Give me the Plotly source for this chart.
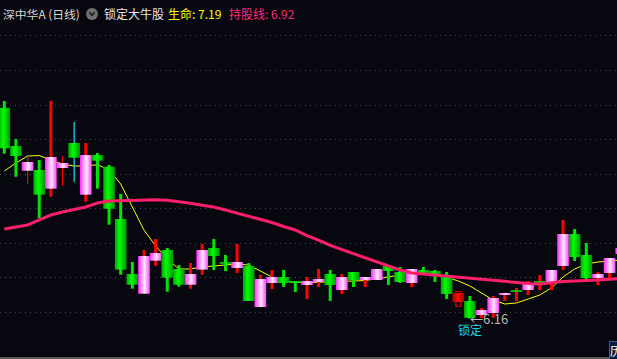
import plotly.graph_objects as go

# ---------------- data ----------------
opens  = [9.211, 8.657, 8.299, 8.309, 8.039, 8.338, 8.700, 7.952, 8.526, 8.357,
          7.600, 6.804, 6.519, 6.997, 7.152, 6.877, 6.649, 6.867, 7.181, 6.963,
          6.891, 6.920, 6.327, 6.674, 6.761, 6.689, 6.645, 6.689, 6.804, 6.573,
          6.833, 6.717, 6.717, 6.920, 6.833, 6.674, 6.862, 6.848, 6.775, 6.399,
          6.414, 6.211, 6.240, 6.500, 6.558, 6.573, 6.689, 6.674, 6.920, 7.383,
          7.079, 6.746, 6.819, 7.094]
highs  = [9.308, 8.758, 8.502, 8.454, 9.308, 8.512, 9.004, 8.700, 8.555, 8.382,
          7.962, 6.978, 7.152, 7.311, 7.181, 6.934, 6.963, 7.238, 7.311, 7.079,
          7.238, 6.963, 6.790, 6.862, 6.862, 6.703, 6.761, 6.877, 6.862, 6.804,
          6.833, 6.761, 6.877, 6.934, 6.906, 6.877, 6.906, 6.862, 6.833, 6.558,
          6.486, 6.312, 6.486, 6.529, 6.602, 6.703, 6.790, 6.862, 7.586, 7.456,
          7.253, 6.833, 7.036, 7.200]
lows   = [8.545, 8.212, 8.111, 7.615, 7.923, 8.082, 8.140, 7.851, 8.039, 7.518,
          6.794, 6.592, 6.519, 6.924, 6.548, 6.620, 6.592, 6.794, 6.862, 6.848,
          6.819, 6.414, 6.327, 6.587, 6.616, 6.544, 6.442, 6.616, 6.414, 6.515,
          6.616, 6.616, 6.717, 6.645, 6.674, 6.616, 6.790, 6.689, 6.442, 6.327,
          6.160, 6.170, 6.170, 6.414, 6.414, 6.500, 6.573, 6.573, 6.862, 6.992,
          6.717, 6.645, 6.717, 7.050]
closes = [8.623, 8.512, 8.425, 7.952, 8.498, 8.411, 8.487, 8.526, 8.444, 7.749,
          6.867, 6.649, 7.065, 7.108, 6.751, 6.649, 6.804, 7.152, 7.065, 6.963,
          6.978, 6.414, 6.732, 6.761, 6.674, 6.689, 6.703, 6.732, 6.645, 6.761,
          6.717, 6.761, 6.877, 6.848, 6.689, 6.877, 6.819, 6.790, 6.515, 6.529,
          6.170, 6.283, 6.457, 6.529, 6.558, 6.660, 6.689, 6.862, 7.383, 7.050,
          6.746, 6.804, 7.036, 7.181]
# body style: g = green, p = pink, x = locked red candle
body_kind = list("ggpgppgpggggppggppggpgppggppgpgppggpggg" "xgppppppppgg" "ppp")
# wick style: G green, R red, r thin red, c thin cyan, X locked
wick_kind = list("GGrGRrcRGGGGRRGGRRGGRGRRGGRRGRGRRGGRGGG" "XGRRRRRRRRGG" "RRR")

life_line = [8.295, 8.411, 8.512, 8.519, 8.454, 8.396, 8.367, 8.367, 8.386, 8.309,
             8.107, 7.774, 7.441, 7.210, 7.021, 6.877, 6.877, 6.906, 6.920, 6.934,
             6.949, 6.934, 6.848, 6.761, 6.703, 6.681, 6.681, 6.689, 6.689, 6.696,
             6.703, 6.710, 6.732, 6.761, 6.790, 6.819, 6.819, 6.804, 6.761, 6.703,
             6.631, 6.529, 6.428, 6.370, 6.385, 6.442, 6.500, 6.602, 6.761, 6.877,
             6.949, 6.978, 6.992, 7.007]
hold_line = [7.456, 7.484, 7.513, 7.586, 7.658, 7.701, 7.738, 7.774, 7.832, 7.861,
             7.865, 7.871, 7.875, 7.880, 7.871, 7.853, 7.827, 7.798, 7.774, 7.730,
             7.687, 7.644, 7.600, 7.550, 7.492, 7.441, 7.361, 7.296, 7.217, 7.159,
             7.101, 7.043, 6.985, 6.927, 6.862, 6.819, 6.804, 6.790, 6.768, 6.754,
             6.739, 6.725, 6.710, 6.693, 6.681, 6.667, 6.660, 6.678, 6.696, 6.703,
             6.707, 6.717, 6.727, 6.742]
grid_prices = [6.25, 6.75, 7.25, 7.75, 8.25, 8.75, 9.25, 9.75, 10.25]

title_txt = "深中华A (日线)"
formula_txt = "锁定大牛股"
life_txt = "生命: 7.19"
hold_txt = "持股线: 6.92"
low_txt = "←6.16"
lock_txt = "锁定"
low_index = 40
low_value = 6.16

# ---------------- style ----------------
W, H = 617, 359
BG = "#07070f"
FONT = "Noto Sans CJK SC"
HW = 0.5
n = len(opens)
xs = list(range(n))

def px(x):
    return x / W

def py(y):
    return 1 - y / H

fig = go.Figure()

# yellow life line (behind candles)
fig.add_trace(go.Scatter(x=xs, y=life_line, mode="lines",
                         line=dict(color="#ffff00", width=1),
                         hoverinfo="skip", showlegend=False))

# wicks
wick_style = {
    "G": ("#00e400", 3), "R": ("#ff0000", 3),
    "r": ("#ff0000", 1.2), "c": ("#19e0ff", 1.2),
}
for code, (col, w) in wick_style.items():
    wx, wy = [], []
    for i in range(n):
        if wick_kind[i] == code:
            wx += [i, i, None]
            wy += [lows[i], highs[i], None]
    if wx:
        fig.add_trace(go.Scatter(x=wx, y=wy, mode="lines", line=dict(color=col, width=w),
                                 hoverinfo="skip", showlegend=False))
# locked candle: hollow wick boxes
for i in range(n):
    if wick_kind[i] == "X":
        fig.add_trace(go.Scatter(x=[i, i], y=[lows[i], highs[i]], mode="lines",
                                 line=dict(color="#e00000", width=6),
                                 hoverinfo="skip", showlegend=False))
        fig.add_trace(go.Scatter(x=[i, i], y=[lows[i] + 0.012, highs[i] - 0.012], mode="lines",
                                 line=dict(color=BG, width=3.5),
                                 hoverinfo="skip", showlegend=False))

# bodies
scales = {
    "g": [[0, "#00a400"], [0.4, "#00ff00"], [1, "#009400"]],
    "p": [[0, "#ff2cff"], [0.55, "#ffe8ff"], [1, "#ff48ff"]],
    "x": [[0, "#a00000"], [0.5, "#ff1010"], [1, "#a00000"]],
}
for i in range(n):
    o, c = opens[i], closes[i]
    lo, hi = min(o, c), max(o, c)
    k = body_kind[i]
    if hi - lo < 0.004:
        fig.add_trace(go.Scatter(x=[i - HW, i + HW], y=[o, c], mode="lines",
                                 line=dict(color="#00e400", width=1.5),
                                 hoverinfo="skip", showlegend=False))
        continue
    fig.add_trace(go.Scatter(
        x=[i - HW, i + HW, i + HW, i - HW, i - HW],
        y=[lo, lo, hi, hi, lo],
        mode="lines", fill="toself", line=dict(width=0),
        fillcolor=scales[k][1][1],
        fillgradient=dict(type="horizontal", colorscale=scales[k]),
        hoverinfo="skip", showlegend=False))

# pink hold line (on top)
fig.add_trace(go.Scatter(x=xs, y=hold_line, mode="lines",
                         line=dict(color="#ff1f6a", width=3),
                         hoverinfo="skip", showlegend=False))

# ---------------- annotations ----------------
ann = []
ann.append(dict(text=title_txt, x=px(1), y=py(14), xref="paper", yref="paper",
                xanchor="left", yanchor="middle", showarrow=False,
                font=dict(family=FONT, size=11.8, color="#d8d8d8")))
ann.append(dict(text=formula_txt, x=px(102), y=py(14), xref="paper", yref="paper",
                xanchor="left", yanchor="middle", showarrow=False,
                font=dict(family=FONT, size=12, color="#e6e6e6")))
ann.append(dict(text=life_txt, x=px(166), y=py(14), xref="paper", yref="paper",
                xanchor="left", yanchor="middle", showarrow=False,
                font=dict(family=FONT, size=12, color="#ffff00")))
ann.append(dict(text=hold_txt, x=px(227), y=py(14), xref="paper", yref="paper",
                xanchor="left", yanchor="middle", showarrow=False,
                font=dict(family=FONT, size=12, color="#ff2a78")))
ann.append(dict(text=low_txt, x=low_index - 0.15, y=low_value, xref="x", yref="y",
                xanchor="left", yanchor="middle", showarrow=False,
                font=dict(family=FONT, size=13, color="#b8b8b8")))
ann.append(dict(text=lock_txt, x=low_index, y=low_value, xref="x", yref="y",
                xanchor="center", yanchor="top", yshift=0, showarrow=False,
                font=dict(family=FONT, size=12, color="#19d2f0")))
ann.append(dict(text="历", x=px(609), y=py(350), xref="paper", yref="paper",
                xanchor="left", yanchor="middle", showarrow=False,
                bgcolor="#0b1a3a", bordercolor="#3a5a8a", borderwidth=1, borderpad=0,
                font=dict(family=FONT, size=12, color="#ffffff")))

shapes = [
    dict(type="line", xref="paper", yref="paper", x0=0, x1=1, y0=py(358), y1=py(358),
         line=dict(color="#5a5a5a", width=2)),
    dict(type="circle", xref="paper", yref="paper", x0=px(86), x1=px(98),
         y0=py(20), y1=py(8), fillcolor="#707070", line=dict(width=0)),
    dict(type="path", xref="paper", yref="paper",
         path=f"M {px(89.3)} {py(12.3)} L {px(92)} {py(15.3)} L {px(94.7)} {py(12.3)}",
         line=dict(color="#1a1a1a", width=1.6)),
]

fig.update_layout(
    width=W, height=H, autosize=False,
    margin=dict(l=0, r=0, t=0, b=0),
    paper_bgcolor=BG, plot_bgcolor=BG,
    showlegend=False,
    annotations=ann, shapes=shapes,
    xaxis=dict(range=[-0.369, 52.637], showgrid=False, zeroline=False,
               showticklabels=False, ticks="", showline=False, fixedrange=True),
    yaxis=dict(range=[5.574, 10.770], tickvals=grid_prices, showgrid=True,
               gridcolor="#4a4a52", gridwidth=1, griddash="1px,4px",
               zeroline=False, showticklabels=False, ticks="", showline=False,
               fixedrange=True),
)

fig.write_html("out.html")
